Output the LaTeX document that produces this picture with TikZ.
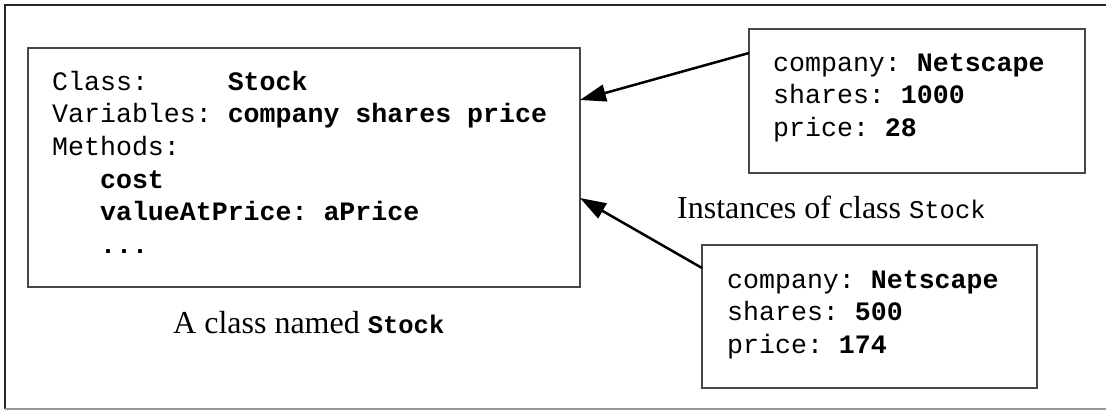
\documentclass[tikz,border=0pt]{standalone}
\usepackage{fontspec}
\setmainfont{Liberation Serif}
\setmonofont{Liberation Mono}
\usetikzlibrary{arrows.meta}
\newcommand{\captt}[1]{{\fontsize{25.5}{30}\selectfont\ttfamily #1}}
\begin{document}
\begin{tikzpicture}[x=1pt,y=-1pt,
  box/.style={draw=black!72, line width=2pt, inner sep=0pt, outer sep=0pt},
  mono/.style={font=\fontsize{26.6}{32.7}\selectfont\ttfamily, align=left, inner sep=0pt},
  captxt/.style={font=\fontsize{32}{36}\selectfont, inner sep=0pt},
  arr/.style={line width=2.5pt, -{Triangle[length=26pt,width=17pt]}}]
\useasboundingbox (0,0) rectangle (1106,412);
\draw[line width=1.5pt, black!85] (1110,5) -- (5,5) -- (5,409);
\draw[line width=1.5pt, black!40] (5,409) -- (1110,409);

\node[box, minimum width=552pt, minimum height=239pt, anchor=north west] (cls) at (28,48) {};
\node[box, minimum width=336pt, minimum height=144pt, anchor=north west] (i1) at (749,29) {};
\node[box, minimum width=335pt, minimum height=143pt, anchor=north west] (i2) at (702,245) {};

% base anchor of a multi-line node = baseline of its last line
\node[mono, anchor=base west] (clsT) at (52,253.5)
  {Class:\phantom{xxxxx}\textbf{Stock}\\
   Variables: \textbf{company shares price}\\
   Methods:\\
   \phantom{xxx}\textbf{cost}\\
   \phantom{xxx}\textbf{valueAtPrice: aPrice}\\
   \phantom{xxx}\textbf{...}};
\node[mono, anchor=base west] (i1T) at (773,136.4)
  {company: \textbf{Netscape}\\ shares: \textbf{1000}\\ price: \textbf{28}};
\node[mono, anchor=base west] (i2T) at (727,353.4)
  {company: \textbf{Netscape}\\ shares: \textbf{500}\\ price: \textbf{174}};

\node[captxt, anchor=base west] (capA) at (173,333) {A class named \captt{\textbf{Stock}}};
\node[captxt, anchor=base west] (capB) at (677,218) {Instances of class \captt{Stock}};

\draw[arr] ([yshift=-24pt]i1.north west) -- ([yshift=-52pt]cls.north east);
\draw[arr] ([yshift=-23pt]i2.north west) -- ([yshift=-150pt]cls.north east);
\end{tikzpicture}
\end{document}
